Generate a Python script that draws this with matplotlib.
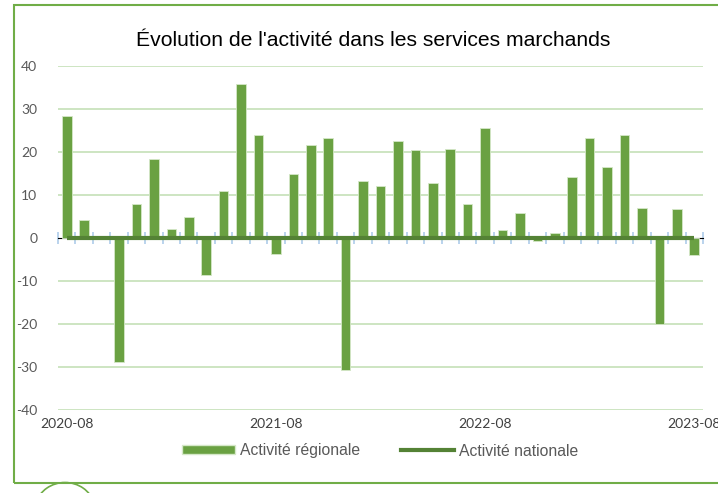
import matplotlib
matplotlib.use("Agg")
import matplotlib.pyplot as plt
from matplotlib.patches import Rectangle, Arc
from matplotlib.lines import Line2D
import numpy as np

months = ["2020-08","2020-09","2020-10","2020-11","2020-12","2021-01","2021-02","2021-03",
          "2021-04","2021-05","2021-06","2021-07","2021-08","2021-09","2021-10","2021-11",
          "2021-12","2022-01","2022-02","2022-03","2022-04","2022-05","2022-06","2022-07",
          "2022-08","2022-09","2022-10","2022-11","2022-12","2023-01","2023-02","2023-03",
          "2023-04","2023-05","2023-06","2023-07","2023-08"]
regional = [28.3, 4.3, 0.5, -28.9, 7.8, 18.4, 2.2, 5.0, -8.7, 10.9, 35.7, 24.0, -3.7,
            15.0, 21.7, 23.3, -30.6, 13.3, 12.2, 22.6, 20.5, 12.8, 20.6, 7.8, 25.6,
            1.9, 5.7, -0.8, 1.2, 14.1, 23.3, 16.6, 24.0, 7.0, -19.9, 6.7, -4.0]
national = [0.0] * len(months)
label_months = ["2020-08", "2021-08", "2022-08", "2023-08"]
yticks = [-40, -30, -20, -10, 0, 10, 20, 30, 40]

bar_color = "#6aa142"
line_color = "#548235"
grid_color = "#c9e3bd"
text_color = "#595959"

fig = plt.figure(figsize=(7.18, 4.93), dpi=100)
# outer border
fig.patches.append(Rectangle((14/718, 1-483/493), 1.2, (483-5)/493, transform=fig.transFigure,
                             fill=False, edgecolor="#70ad47", linewidth=1.5))
fig.patches.append(Arc((65/718, 1-510/493), 60/718, 55/493, theta1=20, theta2=160,
                       transform=fig.transFigure, edgecolor="#70ad47", linewidth=1.2))

ax = fig.add_axes([58/718, 1-410/493, (703-58)/718, (410-66)/493])
x = np.arange(len(months))
ax.bar(x, regional, width=0.55, color=bar_color, edgecolor="#d5e8c8", linewidth=0.6,
       zorder=3, label="Activité régionale")
ax.set_xlim(-0.5, len(months) - 0.5)
ax.set_ylim(-40, 40)
ax.set_yticks(yticks)
ax.set_yticklabels([str(v) for v in yticks])
for v in yticks:
    if v != 0:
        ax.axhline(v, color=grid_color, linewidth=1.3, zorder=1)
for s in ax.spines.values():
    s.set_visible(False)
ax.tick_params(axis="y", length=0, pad=15, labelsize=10, labelcolor=text_color)
ax.tick_params(axis="x", length=0, pad=6, labelsize=10, labelcolor="#404040")
ax.set_xticks([months.index(m) for m in label_months])
ax.set_xticklabels(label_months)
for t in ax.get_xticklabels() + ax.get_yticklabels():
    t.set_fontfamily(["Lato", "DejaVu Sans"])

# zero axis with light blue ticks
sec = ax.secondary_xaxis(0.5)
sec.spines["bottom"].set_color("#bdd7ee")
sec.spines["bottom"].set_linewidth(1.0)
sec.set_xticks(np.arange(-0.5, len(months), 1.0))
sec.set_xticklabels([])
sec.tick_params(axis="x", which="both", direction="inout", length=9, color="#b4d0ec", width=1.3,
                labelbottom=False, labeltop=False)

# national line drawn in a transparent overlay so it sits above the zero-axis ticks
ax2 = fig.add_axes(ax.get_position(), sharex=ax, sharey=ax)
ax2.patch.set_visible(False)
ax2.axis("off")
ax2.plot(x, national, color=line_color, linewidth=3, zorder=4, solid_capstyle="butt")

fig.text(373/718, 1-40/493, "Évolution de l'activité dans les services marchands",
         ha="center", va="center", fontsize=15.2, family=["Liberation Sans", "DejaVu Sans"])

handles = [Rectangle((0, 0), 1, 1, facecolor=bar_color, edgecolor="#d5e8c8"),
           Line2D([0], [0], color=line_color, linewidth=3)]
leg = fig.legend(handles, ["Activité régionale", "Activité nationale"], loc="center",
                 bbox_to_anchor=(380/718, 1-451/493), ncol=2, frameon=False,
                 prop={"family": ["Liberation Sans", "DejaVu Sans"], "size": 11.3},
                 handlelength=3.4, handleheight=0.5, handletextpad=0.3, columnspacing=2.6)
for t in leg.get_texts():
    t.set_color(text_color)

fig.savefig("out.png", dpi=100)
